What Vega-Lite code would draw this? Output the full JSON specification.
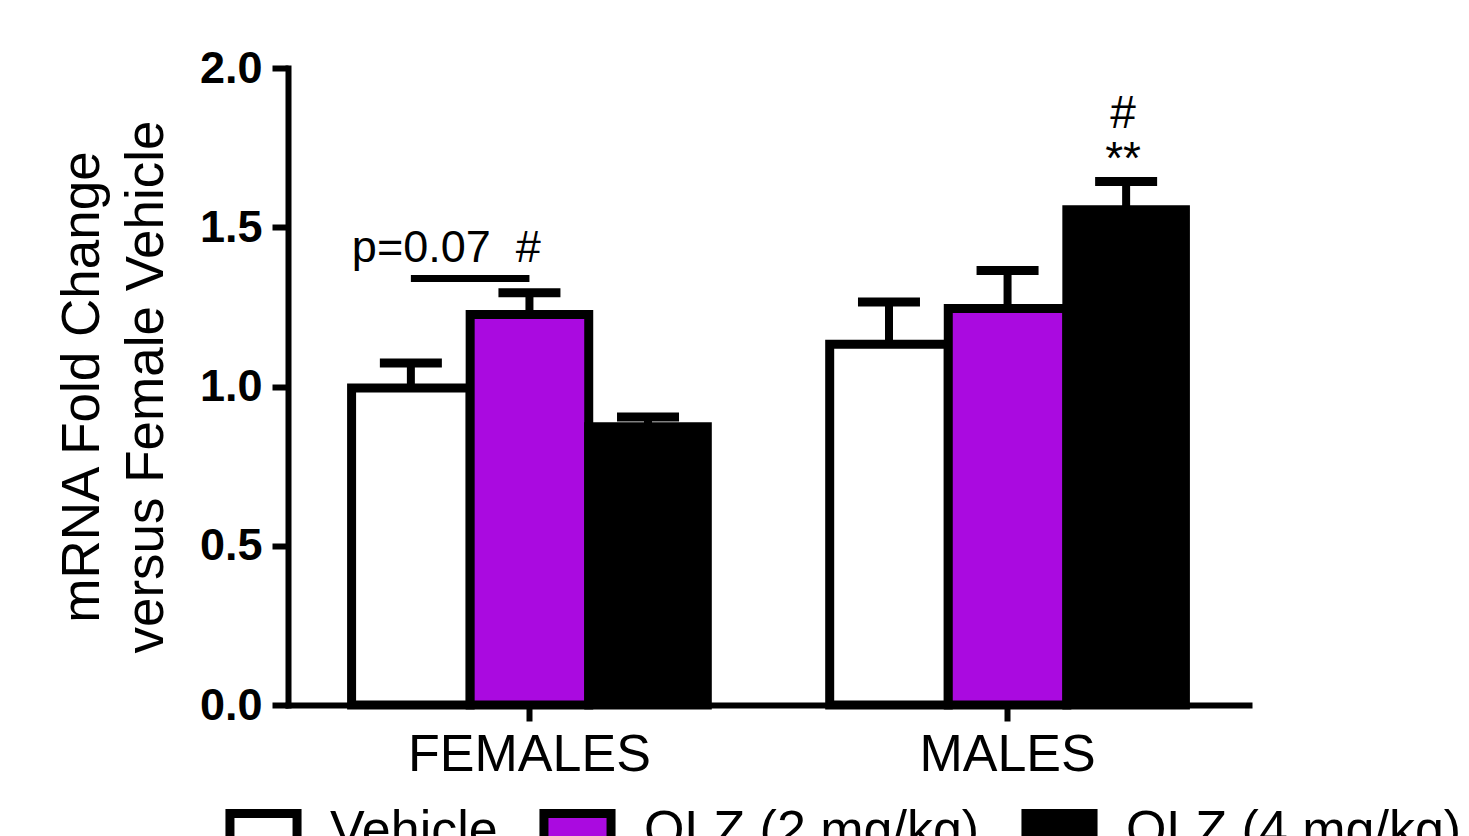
{
  "$schema": "https://vega.github.io/schema/vega-lite/v6.json",
  "width": 961,
  "height": 637,
  "autosize": {"type": "none"},
  "padding": {"left": 288, "top": 68, "right": 220, "bottom": 131},
  "background": "white",
  "config": {
    "font": "Liberation Sans",
    "view": {"stroke": null},
    "axis": {"domainColor": "black", "tickColor": "black", "labelColor": "black", "titleColor": "black", "domainWidth": 6, "tickWidth": 6, "tickSize": 16, "grid": false, "domainCap": "square"}
  },
  "datasets": {
    "bars": [
      {"group": "FEMALES", "treatment": "Vehicle", "mean": 0.995, "upper": 1.074},
      {"group": "FEMALES", "treatment": "OLZ (2 mg/kg)", "mean": 1.226, "upper": 1.294},
      {"group": "FEMALES", "treatment": "OLZ (4 mg/kg)", "mean": 0.874, "upper": 0.904},
      {"group": "MALES", "treatment": "Vehicle", "mean": 1.133, "upper": 1.265},
      {"group": "MALES", "treatment": "OLZ (2 mg/kg)", "mean": 1.245, "upper": 1.364},
      {"group": "MALES", "treatment": "OLZ (4 mg/kg)", "mean": 1.555, "upper": 1.644}
    ],
    "bracket": [
      {"group": "FEMALES", "treatment": "Vehicle", "y": 1.339},
      {"group": "FEMALES", "treatment": "OLZ (2 mg/kg)", "y": 1.339}
    ],
    "pnote": [
      {"group": "FEMALES", "treatment": "Vehicle", "y": 1.391, "label": "p=0.07\u00a0\u00a0#"}
    ],
    "mnotes": [
      {"group": "MALES", "treatment": "OLZ (4 mg/kg)", "y": 1.667, "label": "**"},
      {"group": "MALES", "treatment": "OLZ (4 mg/kg)", "y": 1.812, "label": "#"}
    ]
  },
  "encoding": {
    "x": {
      "field": "group", "type": "nominal", "sort": ["FEMALES", "MALES"],
      "scale": {"paddingInner": 0.256, "paddingOuter": 0.133},
      "axis": {"title": null, "labelAngle": 0, "labelFontSize": 52, "labelPadding": 8, "labelFontWeight": "normal", "labelLimit": 0}
    },
    "xOffset": {
      "field": "treatment", "type": "nominal",
      "sort": ["Vehicle", "OLZ (2 mg/kg)", "OLZ (4 mg/kg)"],
      "scale": {"paddingInner": 0, "paddingOuter": 0}
    }
  },
  "layer": [
    {
      "data": {"name": "bars"},
      "mark": {"type": "bar", "stroke": "black", "strokeWidth": 9, "opacity": 1},
      "encoding": {
        "y": {
          "field": "mean", "type": "quantitative",
          "scale": {"domain": [0, 2], "nice": false},
          "axis": {
            "values": [0, 0.5, 1, 1.5, 2], "format": ".1f",
            "labelFontSize": 45, "labelFontWeight": "bold", "labelPadding": 10,
            "title": ["mRNA Fold Change", "versus Female Vehicle"],
            "titleFontSize": 53, "titleFontWeight": "normal", "titleLineHeight": 64, "titlePadding": 26
          }
        },
        "fill": {
          "field": "treatment", "type": "nominal",
          "scale": {"domain": ["Vehicle", "OLZ (2 mg/kg)", "OLZ (4 mg/kg)"], "range": ["white", "#AA0AE0", "black"]},
          "legend": {
            "title": null, "orient": "none", "direction": "horizontal",
            "legendX": -63, "legendY": 740,
            "symbolType": "square", "symbolSize": 4500,
            "symbolStrokeColor": "black", "symbolStrokeWidth": 9,
            "labelFontSize": 52, "labelLimit": 600, "labelOffset": 28,
            "labelBaseline": "alphabetic", "columnPadding": 27, "padding": 0,
            "labelColor": "black",
            "encode": {"symbols": {"update": {"stroke": {"value": "black"}, "strokeWidth": {"value": 9}, "opacity": {"value": 1}}}}
          }
        }
      }
    },
    {
      "data": {"name": "bars"},
      "mark": {"type": "rule", "color": "black", "strokeWidth": 8},
      "encoding": {
        "y": {"field": "mean", "type": "quantitative"},
        "y2": {"field": "upper"}
      }
    },
    {
      "data": {"name": "bars"},
      "mark": {"type": "tick", "color": "black", "size": 62, "thickness": 9, "opacity": 1},
      "encoding": {
        "y": {"field": "upper", "type": "quantitative"}
      }
    },
    {
      "data": {"name": "bracket"},
      "mark": {"type": "line", "color": "black", "strokeWidth": 7},
      "encoding": {
        "y": {"field": "y", "type": "quantitative"}
      }
    },
    {
      "data": {"name": "pnote"},
      "mark": {"type": "text", "align": "left", "baseline": "alphabetic", "dx": -59, "fontSize": 45, "color": "black"},
      "encoding": {
        "y": {"field": "y", "type": "quantitative"},
        "text": {"field": "label"}
      }
    },
    {
      "data": {"name": "mnotes"},
      "mark": {"type": "text", "align": "center", "baseline": "alphabetic", "dx": -3, "fontSize": 46, "color": "black"},
      "encoding": {
        "y": {"field": "y", "type": "quantitative"},
        "text": {"field": "label"}
      }
    }
  ]
}
